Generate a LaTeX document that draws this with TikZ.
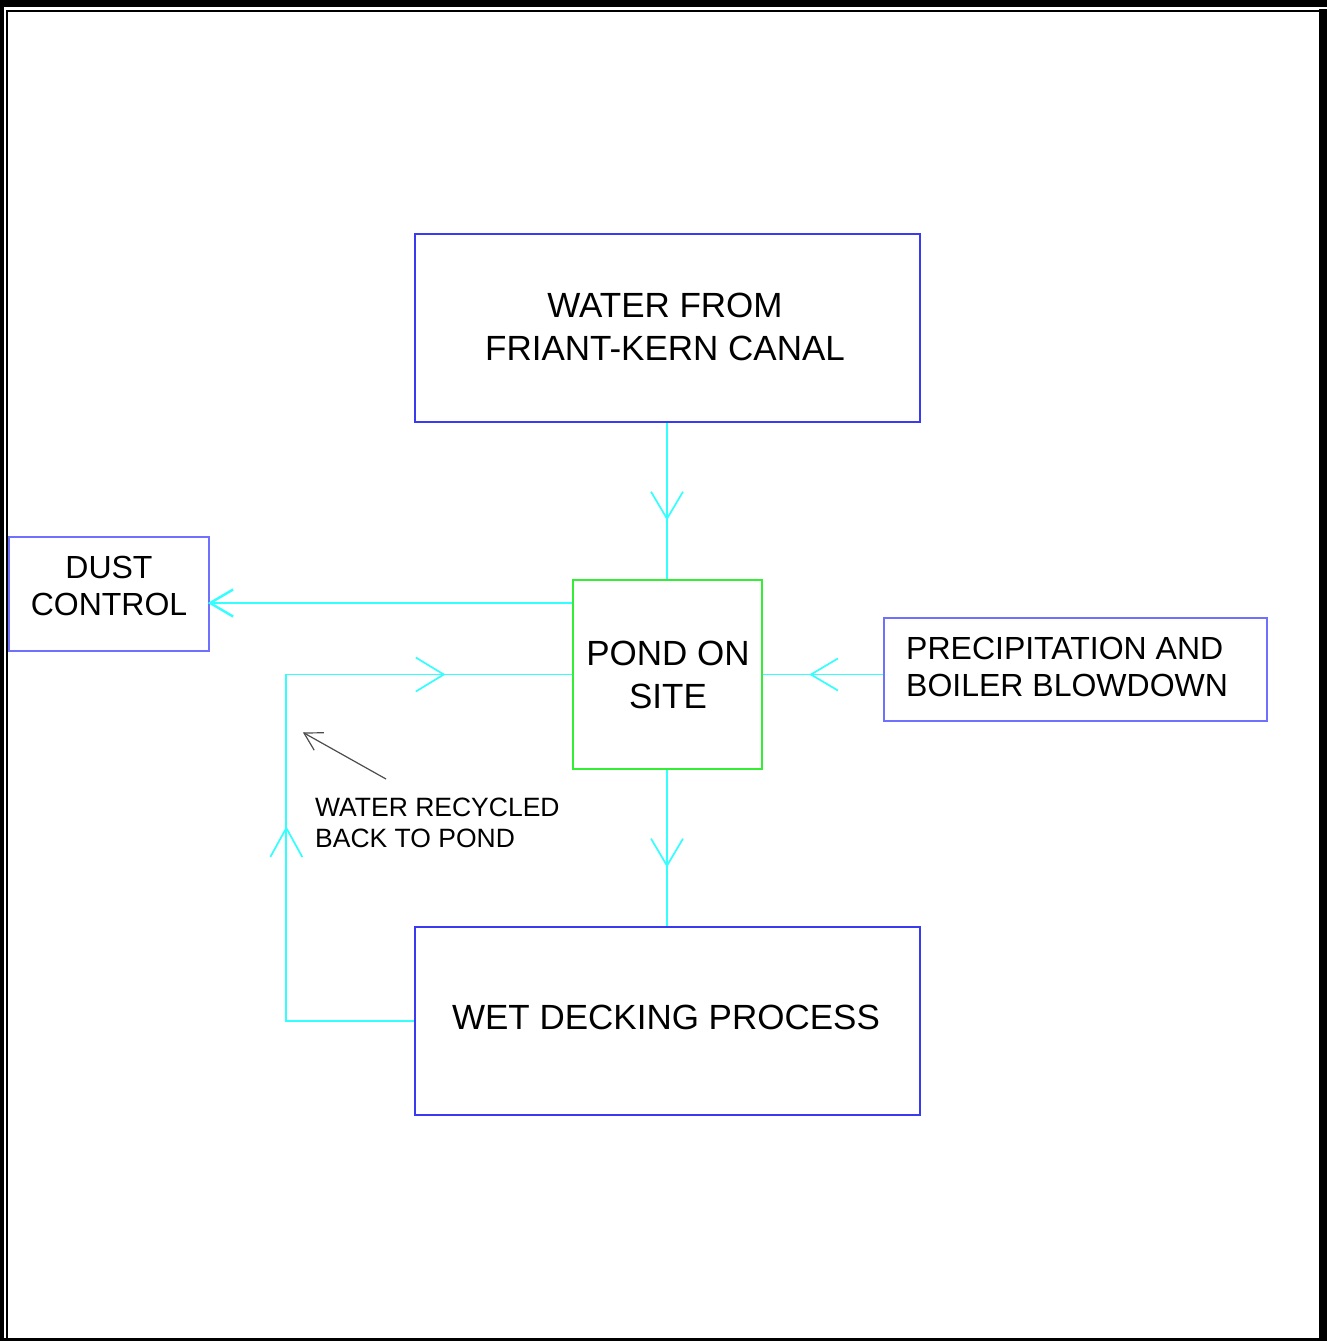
\documentclass[tikz,border=0pt]{standalone}
\usepackage{fontspec}
\setmainfont{Liberation Sans}
\usetikzlibrary{calc,decorations.markings}
\definecolor{boxblue}{HTML}{3A3AF0}
\definecolor{lightblue}{HTML}{7070FF}
\definecolor{pondgreen}{HTML}{33EE33}
\definecolor{flowcyan}{HTML}{33FFFF}
\tikzset{
  bigbox/.style={draw=boxblue, line width=1.4pt, rectangle, inner sep=0pt},
  smallbox/.style={draw=lightblue, line width=2.2pt, rectangle, inner sep=0pt},
  pondbox/.style={draw=pondgreen, line width=1.3pt, rectangle, inner sep=0pt},
  bigtxt/.style={inner sep=0pt, align=center, font=\fontsize{35}{43}\selectfont},
  midtxt/.style={inner sep=0pt, font=\fontsize{32}{37}\selectfont},
  smalltxt/.style={inner sep=0pt, align=left, font=\fontsize{26.5}{31}\selectfont},
  flow/.style={draw=flowcyan, line width=1.8pt},
  vhead/.style={postaction={decorate}, decoration={markings,
     mark=at position #1 with {\draw[flowcyan, line width=1.7pt] (-27,16) -- (0,0) -- (-27,-16);}}},
}
\begin{document}
\begin{tikzpicture}[x=1pt,y=-1pt]
\useasboundingbox (0,0) rectangle (1327,1341);
% frame
\fill[black] (0,0) rectangle (1327,7);
\fill[black] (0,0) rectangle (4,1341);
\fill[black] (6,10) rectangle (1319,12);
\fill[black] (6,10) rectangle (8,1341);
\fill[black] (1319,9) rectangle (1327,1341);
\fill[black] (0,1338) rectangle (1327,1341);

% boxes
\node[bigbox, minimum width=505pt, minimum height=188pt] (top) at (667.5,328) {};
\node[smallbox, minimum width=200pt, minimum height=114pt] (dust) at (109,594) {};
\node[pondbox, minimum width=189pt, minimum height=189pt] (pond) at (667.5,674.5) {};
\node[smallbox, minimum width=383pt, minimum height=103pt] (precip) at (1075.5,669.5) {};
\node[bigbox, minimum width=505pt, minimum height=188pt] (wet) at (667.5,1021) {};

% texts
\node[bigtxt] (toptxt) at (665,326.5) {WATER FROM\\FRIANT-KERN CANAL};
\node[midtxt, align=center] (dusttxt) at (109,585.5) {DUST\\CONTROL};
\node[bigtxt] (pondtxt) at (668,674.5) {POND ON\\SITE};
\node[midtxt, align=left, anchor=west] (preciptxt) at (906,666.5) {PRECIPITATION AND\\BOILER BLOWDOWN};
\node[bigtxt] (wettxt) at (666,1017) {WET DECKING PROCESS};
\node[smalltxt, anchor=west] (rectxt) at (315,822.5) {WATER RECYCLED\\BACK TO POND};

% connectors
\draw[flow, vhead=96pt] ($(top.south)+(-0.5,0)$) -- ($(pond.north)+(-0.5,0)$);
\draw[flow, vhead=96pt] ($(pond.south)+(-0.5,0)$) -- ($(wet.north)+(-0.5,0)$);
\draw[flow, vhead=72pt] (precip.west |- pond.center) -- (pond.east);
\draw[draw=flowcyan, line width=2.4pt] ($(pond.west)+(0,-71.5)$) -- ($(dust.east)+(0,9)$);
\draw[flowcyan, line width=2.4pt] ($(dust.east)+(23,-4.5)$) -- ($(dust.east)+(0,9)$) -- ($(dust.east)+(23,22.5)$);
\draw[flow, postaction={decorate}, decoration={markings,
     mark=at position 321pt with {\draw[flowcyan, line width=1.7pt] (-29,16) -- (0,0) -- (-29,-16);},
     mark=at position 632pt with {\draw[flowcyan, line width=1.7pt] (-28,17) -- (0,0) -- (-28,-17);}}]
  (wet.west) -- ++(-128,0) |- (pond.west);

% pointer
\coordinate (ptail) at (386,779);
\coordinate (ptip) at (304,733);
\draw[black!70, line width=1.2pt, postaction={decorate}, decoration={markings,
     mark=at position 1 with {\draw[black!70, line width=1.2pt] (-17.3,10) -- (0,0) -- (-17.3,-10);}}]
  (ptail) -- (ptip);
\end{tikzpicture}
\end{document}
